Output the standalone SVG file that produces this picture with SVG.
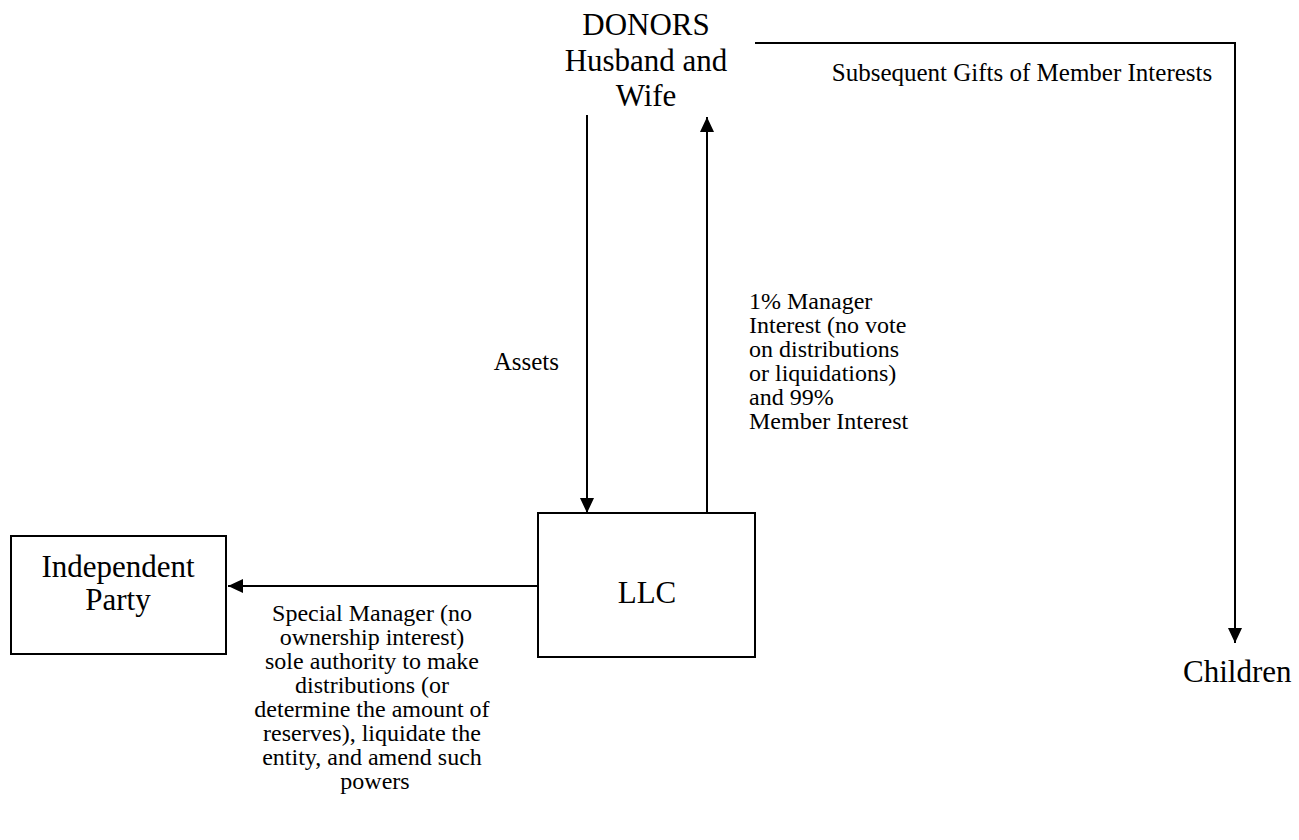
<svg xmlns="http://www.w3.org/2000/svg" width="1299" height="840" viewBox="0 0 1299 840">
  <style>
    text { font-family: 'Liberation Serif', 'DejaVu Serif', 'Times New Roman', serif; fill: #000; }
    .big { font-size: 31px; }
    .small { font-size: 24px; }
    .label { font-size: 25px; }
    .box { fill: #fff; stroke: #000; stroke-width: 2; }
    .wire { fill: none; stroke: #000; stroke-width: 2; }
  </style>
  <defs>
    <marker id="arrow" viewBox="0 0 15 14" refX="15" refY="7" markerWidth="15" markerHeight="14" markerUnits="userSpaceOnUse" orient="auto">
      <path d="M0,0 L15,7 L0,14 Z" fill="#000"/>
    </marker>
  </defs>
  <rect width="1299" height="840" fill="#fff"/>

  <g id="donors">
    <text class="big" x="646" y="35" text-anchor="middle">DONORS</text>
    <text class="big" x="646" y="71" text-anchor="middle">Husband and</text>
    <text class="big" x="646" y="106" text-anchor="middle">Wife</text>
  </g>

  <g id="llc">
    <rect class="box" x="538" y="513" width="217" height="144"/>
    <text class="big" x="647" y="603" text-anchor="middle">LLC</text>
  </g>

  <g id="independent-party">
    <rect class="box" x="11" y="536" width="215" height="118"/>
    <text class="big" x="118" y="577" text-anchor="middle">Independent</text>
    <text class="big" x="118" y="610" text-anchor="middle">Party</text>
  </g>

  <g id="children">
    <text class="big" x="1183" y="682">Children</text>
  </g>

  <g id="connectors">
    <!-- gifts from donors to children -->
    <polyline class="wire" points="755,43 1235,43 1235,643" marker-end="url(#arrow)"/>
    <text class="label" x="1022" y="81" text-anchor="middle">Subsequent Gifts of Member Interests</text>

    <!-- assets into the LLC -->
    <line class="wire" x1="587" y1="115" x2="587" y2="513" marker-end="url(#arrow)"/>
    <text class="label" x="559" y="370" text-anchor="end">Assets</text>

    <!-- interests back to donors -->
    <line class="wire" x1="707" y1="513" x2="707" y2="117" marker-end="url(#arrow)"/>
    <text class="small">
      <tspan x="749" y="309">1% Manager</tspan>
      <tspan x="749" y="333">Interest (no vote</tspan>
      <tspan x="749" y="357">on distributions</tspan>
      <tspan x="749" y="381">or liquidations)</tspan>
      <tspan x="749" y="405">and 99%</tspan>
      <tspan x="749" y="429">Member Interest</tspan>
    </text>

    <!-- special manager role -->
    <line class="wire" x1="538" y1="586" x2="228" y2="586" marker-end="url(#arrow)"/>
    <text class="small" text-anchor="middle">
      <tspan x="375" y="621">Special Manager (no</tspan>
      <tspan x="375" y="645">ownership interest)</tspan>
      <tspan x="375" y="669">sole authority to make</tspan>
      <tspan x="375" y="693">distributions (or</tspan>
      <tspan x="375" y="717">determine the amount of</tspan>
      <tspan x="375" y="741">reserves), liquidate the</tspan>
      <tspan x="375" y="765">entity, and amend such</tspan>
      <tspan x="375" y="789">powers</tspan>
    </text>
  </g>
</svg>
